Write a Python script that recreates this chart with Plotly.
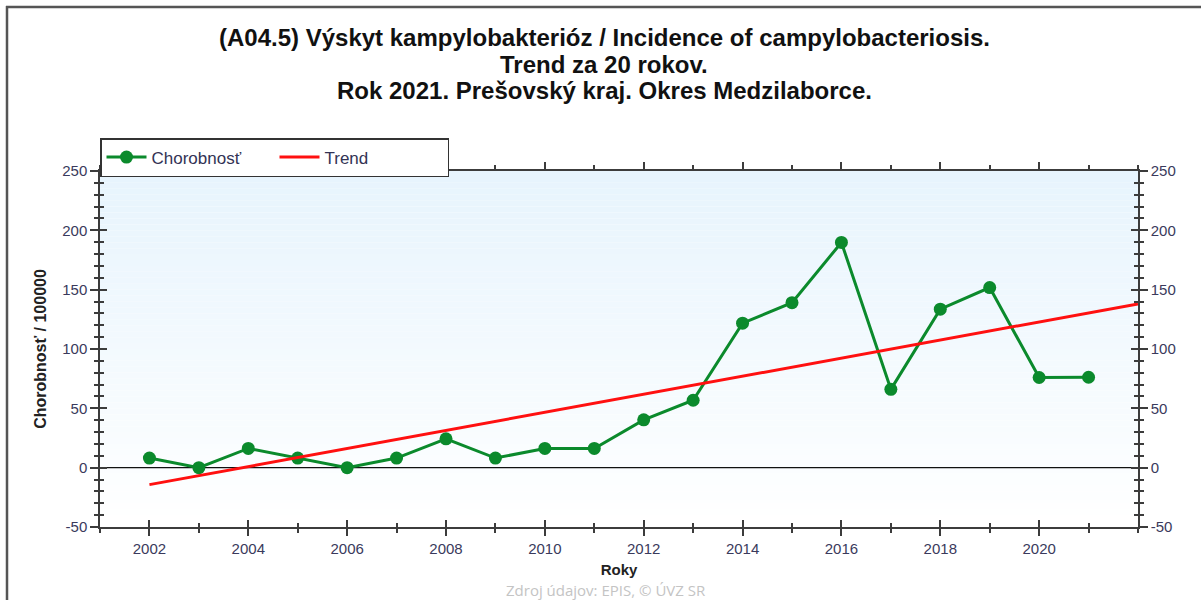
import plotly.graph_objects as go

# ---- data ----
years = list(range(2002, 2022))
incidence = [8.1, 0, 16.2, 8.1, 0, 8.1, 24.3, 8.1, 16.2, 16.2,
             40.3, 56.8, 121.8, 139.0, 189.8, 66.0, 133.6, 151.8, 76.0, 76.2]
trend_years = [2002, 2022]
trend_values = [-14.3, 138.0]
x_tick_vals = list(range(2002, 2021, 2))
y_tick_vals = [-50, 0, 50, 100, 150, 200, 250]
y_tick_text = ["-50", "0", "50", "100", "150", "200", "250"]

title_lines = [
    "(A04.5) Výskyt kampylobakterióz / Incidence of campylobacteriosis.",
    "Trend za 20 rokov.",
    "Rok 2021. Prešovský kraj. Okres Medzilaborce.",
]

W, H = 1201, 600
ML, MR, MT, MB = 100, 63, 171, 73
PW, PH = W - ML - MR, H - MT - MB

def px(xp):
    return (xp - ML) / PW

def py(yp):
    return (H - MB - yp) / PH

GREEN = "#0b8a2c"
RED = "#ff1010"
AX = "#3c3c3c"
TICKC = "#3a3a5c"
FONT = "Liberation Sans, Arial, sans-serif"
TICKFONT = dict(family=FONT, size=15, color=TICKC)

fig = go.Figure()

fig.add_trace(go.Scatter(
    x=years, y=incidence, mode="lines+markers", name="Chorobnosť",
    line=dict(color=GREEN, width=3),
    marker=dict(color=GREEN, size=13),
))
fig.add_trace(go.Scatter(
    x=trend_years, y=trend_values, mode="lines", name="Trend",
    line=dict(color=RED, width=3),
))
# helper traces to draw extra axes (inside ticks / right labels)
for xa, ya in [("x", "y2"), ("x", "y3"), ("x", "y4"), ("x2", "y")]:
    fig.add_trace(go.Scatter(
        x=trend_years, y=trend_values, mode="lines", xaxis=xa, yaxis=ya,
        line=dict(color="rgba(0,0,0,0)"), showlegend=False, hoverinfo="skip",
    ))

yr = [-50, 250]
xr = [2001, 2022]

common_y = dict(range=yr, tickvals=y_tick_vals, ticktext=y_tick_text,
                showgrid=False, zeroline=False,
                linecolor=AX, linewidth=1.5, tickcolor=AX, tickwidth=1.5,
                tickfont=TICKFONT,
                minor=dict(dtick=10, ticklen=4, tickcolor=AX, tickwidth=1.5, ticks="outside"))

fig.update_layout(
    width=W, height=H,
    margin=dict(l=ML, r=MR, t=MT, b=MB),
    paper_bgcolor="white", plot_bgcolor="rgba(0,0,0,0)",
    showlegend=True,
    legend=dict(orientation="h", x=0, y=py(138), xanchor="left", yanchor="top",
                bgcolor="white", bordercolor="#333333", borderwidth=1.5,
                font=dict(family=FONT, size=17, color="#333355"),
                entrywidth=118, itemwidth=40, tracegroupgap=0),
    xaxis=dict(range=xr, tickvals=x_tick_vals, showgrid=False, zeroline=False,
               ticks="outside", ticklen=7, tickcolor=AX, tickwidth=1.5,
               linecolor=AX, linewidth=1.5, mirror="ticks",
               tickfont=TICKFONT,
               minor=dict(dtick=1, ticklen=4, tickcolor=AX, tickwidth=1.5, ticks="outside"),
               title=dict(text="<b>Roky</b>", font=dict(family=FONT, size=15, color="#222222"), standoff=9)),
    xaxis2=dict(range=xr, overlaying="x", side="bottom", anchor="y", tickvals=x_tick_vals,
                showticklabels=False, showgrid=False, zeroline=False,
                ticks="inside", ticklen=7, tickcolor=AX, tickwidth=1.5, showline=False,
                minor=dict(dtick=1, ticklen=4, tickcolor=AX, tickwidth=1.5, ticks="inside")),
    yaxis=dict(**common_y, ticks="outside", ticklen=8, showline=True, mirror=True,
               title=dict(text="<b>Chorobnosť / 100000</b>",
                          font=dict(family=FONT, size=16, color="#222222"), standoff=12)),
    yaxis2=dict(**common_y, overlaying="y", side="right", anchor="x",
                ticks="outside", ticklen=8, showline=True, showticklabels=True),
    yaxis3=dict(range=yr, tickvals=y_tick_vals, overlaying="y", side="left", anchor="x",
                showticklabels=False, showgrid=False, zeroline=False, showline=False,
                ticks="inside", ticklen=7, tickcolor=AX, tickwidth=1.5,
                minor=dict(dtick=10, ticklen=4, tickcolor=AX, tickwidth=1.5, ticks="inside")),
    yaxis4=dict(range=yr, tickvals=y_tick_vals, overlaying="y", side="right", anchor="x",
                showticklabels=False, showgrid=False, zeroline=False, showline=False,
                ticks="inside", ticklen=7, tickcolor=AX, tickwidth=1.5,
                minor=dict(dtick=10, ticklen=4, tickcolor=AX, tickwidth=1.5, ticks="inside")),
)

# gradient background for the plot area
N = 60
top = (231, 244, 253)
bot = (255, 255, 255)
shapes = []
for i in range(N):
    t = i / (N - 1)
    c = tuple(round(top[k] + (bot[k] - top[k]) * t) for k in range(3))
    shapes.append(dict(type="rect", xref="x domain", yref="y domain",
                       x0=0, x1=1, y0=1 - (i + 1) / N, y1=1 - i / N,
                       fillcolor="rgb(%d,%d,%d)" % c, line=dict(width=0), layer="below"))
# zero line
shapes.append(dict(type="line", xref="x domain", yref="y", x0=0, x1=1, y0=0, y1=0,
                   line=dict(color="#111111", width=1.2), layer="below"))
# outer frame (left and top)
shapes.append(dict(type="line", xref="paper", yref="paper", x0=px(7), x1=px(7),
                   y0=py(6), y1=py(605), line=dict(color="#555555", width=2.5)))
shapes.append(dict(type="line", xref="paper", yref="paper", x0=px(6), x1=px(1210),
                   y0=py(7), y1=py(7), line=dict(color="#555555", width=2.5)))
fig.update_layout(shapes=shapes)

# title lines
for txt, yp in zip(title_lines, [38, 64, 91]):
    fig.add_annotation(text="<b>%s</b>" % txt, xref="paper", yref="paper",
                       x=px(604), y=py(yp), xanchor="center", yanchor="middle",
                       showarrow=False, font=dict(family=FONT, size=24, color="#111111"))

# source note
fig.add_annotation(text="Zdroj údajov: EPIS, © ÚVZ SR", xref="paper", yref="paper",
                   x=px(606), y=py(590), xanchor="center", yanchor="middle",
                   showarrow=False, font=dict(family="Open Sans, sans-serif", size=15, color="#c4c4c4"))

fig.write_html("out.html", config={"displayModeBar": False},
               post_script="document.body.style.margin='0';document.body.style.overflow='hidden';")
